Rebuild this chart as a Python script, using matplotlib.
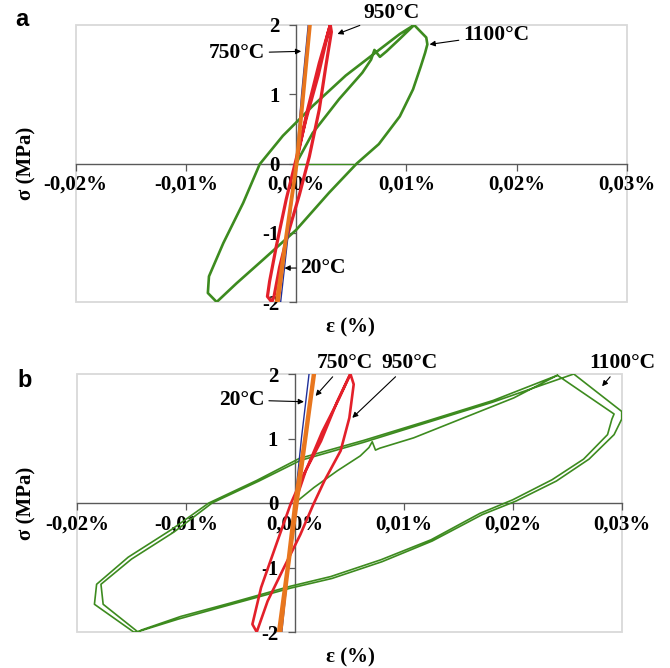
import matplotlib
matplotlib.use('Agg')
import matplotlib.pyplot as plt
from matplotlib.patches import Rectangle

# strain in %, stress in MPa
strain_ticks = [-0.02, -0.01, 0.0, 0.01, 0.02, 0.03]
strain_labels = ['-0,02%', '-0,01%', '0,00%', '0,01%', '0,02%', '0,03%']
stress_ticks = [-2, -1, 0, 1, 2]
stress_labels = ['-2', '-1', '0', '1', '2']

# ---- panel a ----
a_20_x = [-0.0014, -0.0007, 0.0, 0.0005, 0.0011]
a_20_y = [-2.0, -1.0, 0.0, 1.0, 2.0]

a_750_x = [-0.0018, -0.0009, 0.0, 0.0006, 0.0012, 0.0013, 0.0007, 0.0001, -0.0008, -0.0016, -0.0018]
a_750_y = [-2.0, -1.0, 0.0, 1.0, 2.0, 2.0, 1.0, 0.0, -1.0, -2.0, -2.0]

a_950_x = [0.0, 0.0010, 0.0021, 0.0031,
           0.0032, 0.0027, 0.0021, 0.0012, 0.0003, -0.0008, -0.0015, -0.0020, -0.0022,
           -0.0026, -0.0024, -0.0018, -0.0009, 0.0, 0.0009, 0.0020, 0.0029, 0.0031]
a_950_y = [0.0, 0.75, 1.45, 2.0,
           1.9, 1.41, 0.78, 0.10, -0.45, -1.05, -1.50, -1.92, -2.0,
           -1.92, -1.70, -1.20, -0.52, 0.06, 0.64, 1.27, 1.89, 2.0]

a_1100_x = [0.0, 0.0015, 0.0039, 0.0060, 0.0068, 0.0071, 0.0076, 0.0082, 0.0094, 0.0107,
            0.0118, 0.0119, 0.0117, 0.0113, 0.0106, 0.0094, 0.0075, 0.0055, 0.0030, 0.0,
            -0.0030, -0.0054, -0.0072, -0.0080, -0.0079, -0.0066, -0.0048, -0.0033,
            -0.0012, 0.0015, 0.0045, 0.0076, 0.0094, 0.0107]
a_1100_y = [0.0, 0.44, 0.93, 1.31, 1.50, 1.64, 1.54, 1.62, 1.80, 2.0,
            1.82, 1.72, 1.60, 1.40, 1.07, 0.68, 0.28, 0.0, -0.42, -0.96,
            -1.39, -1.73, -2.0, -1.87, -1.63, -1.15, -0.57, -0.01,
            0.40, 0.83, 1.27, 1.65, 1.87, 2.0]
a_1100_base_x = [0.0, 0.0052]
a_1100_base_y = [0.0, 0.0]

# ---- panel b ----
b_20_x = [-0.0012, -0.0006, 0.0, 0.0006, 0.0013]
b_20_y = [-2.0, -1.0, 0.0, 1.0, 2.0]

b_750_x = [-0.0015, -0.0007, 0.0, 0.0009, 0.0017, 0.0018, 0.0010, 0.0002, -0.0006, -0.0013, -0.0015]
b_750_y = [-2.0, -1.0, 0.0, 1.0, 2.0, 2.0, 1.0, 0.0, -1.0, -2.0, -2.0]

b_950_x = [0.0, 0.0010, 0.0025, 0.0040, 0.0051,
           0.0054, 0.0050, 0.0042, 0.0027, 0.0017, 0.0005, -0.0010, -0.0025, -0.0035,
           -0.0039, -0.0031, -0.0016, -0.0004, 0.0008, 0.0024, 0.0039, 0.0050]
b_950_y = [0.0, 0.50, 1.10, 1.60, 2.0,
           1.84, 1.32, 0.81, 0.34, -0.02, -0.49, -1.0, -1.52, -2.0,
           -1.88, -1.31, -0.59, -0.02, 0.44, 0.96, 1.58, 1.97]

b_1100_x = [0.0, 0.00175, 0.0039, 0.0060, 0.0068, 0.0071, 0.0074, 0.0078, 0.0109, 0.0155, 0.0201, 0.0241,
            0.0293, 0.0291, 0.0287, 0.0265, 0.0236, 0.0200, 0.0170, 0.0125, 0.0079, 0.0033,
            -0.0004, -0.0059, -0.0105, -0.0141, -0.0144, -0.0176, -0.0178, -0.0150, -0.0111,
            -0.0076, -0.0033, 0.0005, 0.0063, 0.0122, 0.0181, 0.0256,
            0.0300, 0.0300, 0.0293, 0.0270, 0.0240, 0.0203, 0.0172, 0.0126, 0.0080, 0.0034,
            -0.0004, -0.0060, -0.0107, -0.0145, -0.0148, -0.0184, -0.0182, -0.0153, -0.0114,
            -0.0079, -0.0035, 0.0004, 0.0063, 0.0123, 0.0182, 0.0241]
b_1100_y = [0.0, 0.24, 0.50, 0.73, 0.86, 0.95, 0.82, 0.85, 1.01, 1.32, 1.63, 1.98,
            1.38, 1.30, 1.06, 0.68, 0.36, 0.05, -0.16, -0.57, -0.88, -1.14,
            -1.29, -1.55, -1.76, -1.97, -2.0, -1.57, -1.26, -0.87, -0.45,
            0.0, 0.34, 0.66, 0.94, 1.25, 1.56, 2.0,
            1.42, 1.30, 1.06, 0.68, 0.34, 0.03, -0.18, -0.59, -0.91, -1.17,
            -1.32, -1.58, -1.80, -2.0, -2.0, -1.57, -1.26, -0.84, -0.42,
            0.0, 0.35, 0.69, 0.97, 1.28, 1.59, 1.98]

FONT = 'Liberation Serif'
GREEN = '#3d8b1f'
RED = '#e3202a'
ORANGE = '#e8761e'
BLUE = '#1f2f9a'
AXIS_GRAY = '#595959'


def setup_axes(ax):
    ax.set_xlim(-0.02, 0.03)
    ax.set_ylim(-2, 2)
    for side in ['top', 'right']:
        ax.spines[side].set_visible(False)
    ax.spines['left'].set_position(('data', 0))
    ax.spines['bottom'].set_position(('data', 0))
    for side in ['left', 'bottom']:
        ax.spines[side].set_color(AXIS_GRAY)
        ax.spines[side].set_linewidth(1.0)
        ax.spines[side].set_zorder(1)
    # light plot-area border
    ax.add_patch(Rectangle((0, 0), 1, 1, transform=ax.transAxes, fill=False,
                           edgecolor='#d9d9d9', lw=1.3, zorder=0.5, clip_on=False))
    ax.set_xticks(strain_ticks, strain_labels)
    ax.set_yticks(stress_ticks, stress_labels)
    ax.tick_params(direction='out', length=5, width=0.9, color=AXIS_GRAY)
    ax.tick_params(axis='x', pad=3)
    ax.tick_params(axis='y', pad=7)
    for lab in ax.get_xticklabels() + ax.get_yticklabels():
        lab.set_fontfamily(FONT)
        lab.set_fontweight('bold')
        lab.set_fontsize(15)


def note(ax, text, xy, text_px):
    # text position given in image pixels (from top-left)
    ax.annotate(text, xy=xy, xycoords='data',
                xytext=(text_px[0], 668 - text_px[1]), textcoords='figure pixels',
                ha='center', va='center', fontsize=15.5, fontweight='bold', family=FONT,
                arrowprops=dict(arrowstyle='-|>', color='black', lw=0.8,
                                mutation_scale=8, shrinkA=1, shrinkB=0),
                annotation_clip=False, zorder=10)


fig = plt.figure(figsize=(6.7, 6.68), dpi=100)

# ---- panel a ----
ax1 = fig.add_axes([75.5 / 670, 1 - 302 / 668, (627 - 75.5) / 670, (302 - 25) / 668])
setup_axes(ax1)
ax1.plot(a_1100_base_x, a_1100_base_y, color=GREEN, lw=0.9, zorder=2)
ax1.plot(a_1100_x, a_1100_y, color=GREEN, lw=1.9, zorder=2)
ax1.plot(a_950_x, a_950_y, color=RED, lw=2.3, zorder=3)
ax1.plot(a_20_x, a_20_y, color=BLUE, lw=1.0, zorder=4)
ax1.plot(a_750_x, a_750_y, color=ORANGE, lw=2.0, zorder=5)

note(ax1, '950°C', (0.00375, 1.87), (392, 13))
note(ax1, '750°C', (0.00046, 1.62), (237, 53))
note(ax1, '1100°C', (0.0121, 1.72), (496, 35))
note(ax1, '20°C', (-0.00105, -1.51), (323, 268))

fig.text(22 / 670, 1 - 20 / 668, 'a', fontsize=17, fontweight='bold',
         family='Liberation Sans', ha='center', va='center')
fig.text(26 / 670, 1 - 163 / 668, 'σ (MPa)', rotation=90, fontsize=15,
         fontweight='bold', family=FONT, ha='center', va='center')
fig.text(350 / 670, 1 - 327 / 668, 'ε (%)', fontsize=15,
         fontweight='bold', family=FONT, ha='center', va='center')

# ---- panel b ----
ax2 = fig.add_axes([77 / 670, 1 - 632 / 668, (621.7 - 77) / 670, (632 - 374) / 668])
setup_axes(ax2)
ax2.plot(b_1100_x, b_1100_y, color=GREEN, lw=1.2, zorder=2)
ax2.plot(b_950_x, b_950_y, color=RED, lw=1.9, zorder=3)
ax2.plot(b_20_x, b_20_y, color=BLUE, lw=1.0, zorder=4)
ax2.plot(b_750_x, b_750_y, color=ORANGE, lw=2.4, zorder=5)

note(ax2, '750°C', (0.0019, 1.66), (345, 363))
note(ax2, '950°C', (0.00527, 1.32), (410, 363))
note(ax2, '1100°C', (0.0282, 1.81), (622, 363))
note(ax2, '20°C', (0.00083, 1.57), (242, 400))

fig.text(25 / 670, 1 - 380 / 668, 'b', fontsize=17, fontweight='bold',
         family='Liberation Sans', ha='center', va='center')
fig.text(26 / 670, 1 - 503 / 668, 'σ (MPa)', rotation=90, fontsize=15,
         fontweight='bold', family=FONT, ha='center', va='center')
fig.text(350 / 670, 1 - 657 / 668, 'ε (%)', fontsize=15,
         fontweight='bold', family=FONT, ha='center', va='center')

fig.savefig('out.png', dpi=100)
